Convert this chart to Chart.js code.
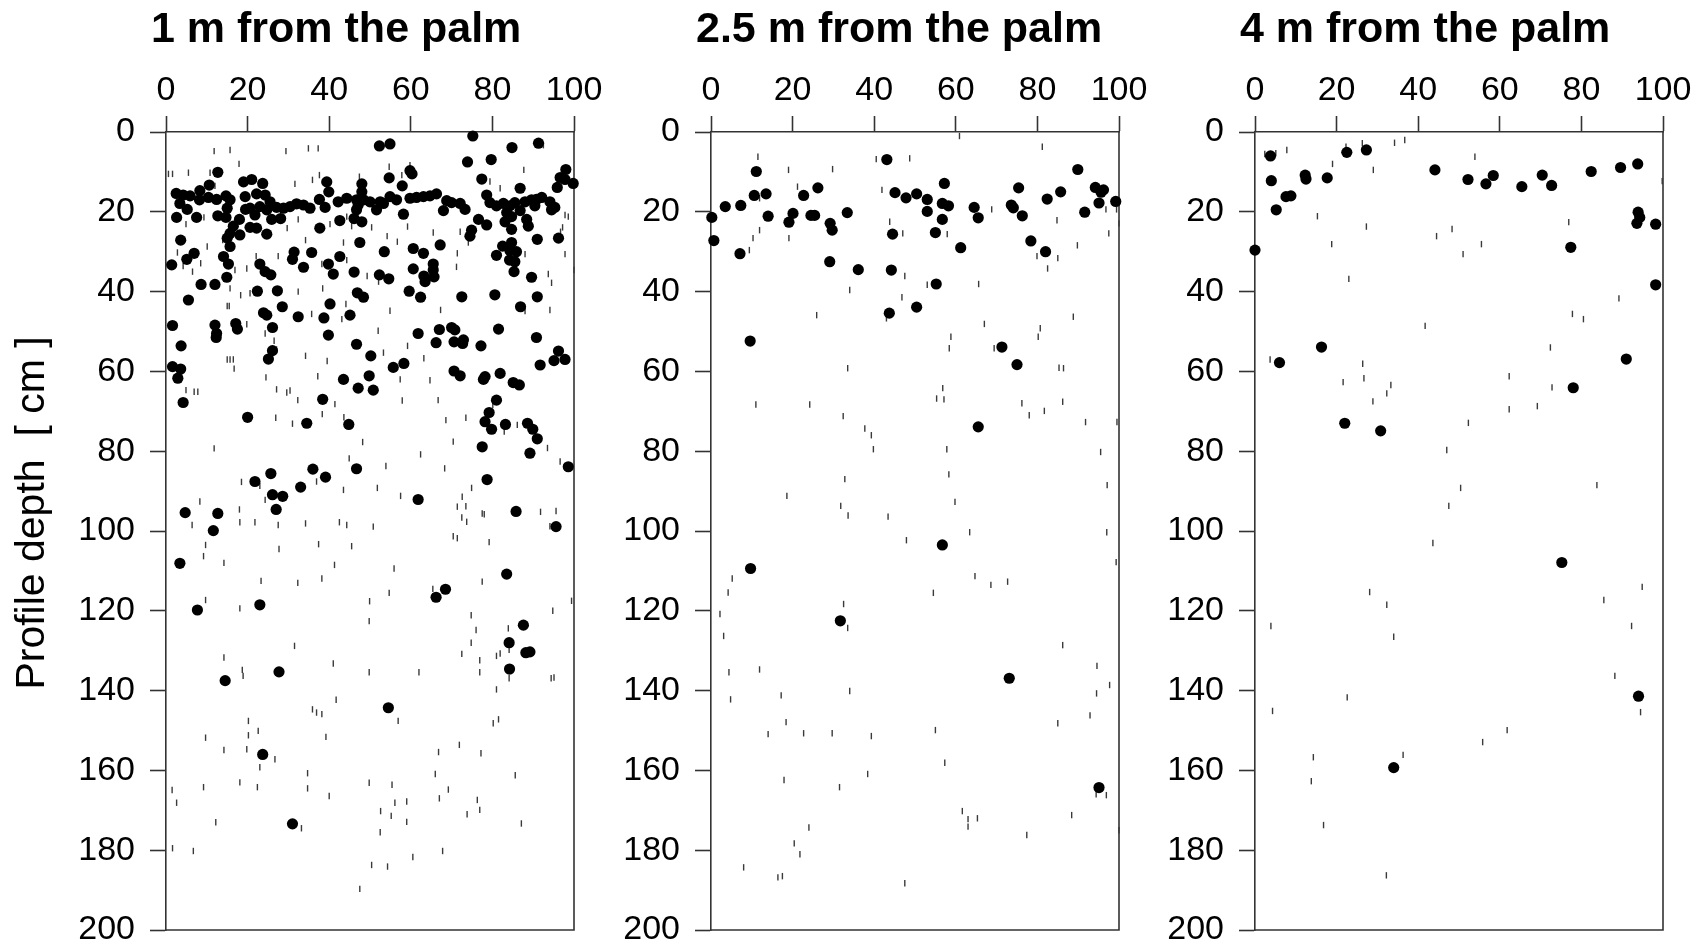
<!DOCTYPE html>
<html lang="en">
<head>
<meta charset="UTF-8" />
<title>Profile depth vs distance from the palm</title>
<script src="https://cdn.jsdelivr.net/npm/chart.js"></script>
<style>
  body { margin: 0; background: #fff; width: 1706px; height: 948px; position: relative; overflow: hidden; }
  canvas { position: absolute; top: 0; }
</style>
</head>
<body>
<canvas id="p1" width="640" height="948" style="left:0px"></canvas>
<canvas id="p2" width="570" height="948" style="left:590px"></canvas>
<canvas id="p3" width="576" height="948" style="left:1130px"></canvas>
<script>
const xTicks = [0, 20, 40, 60, 80, 100];
const yTicks = [0, 20, 40, 60, 80, 100, 120, 140, 160, 180, 200];
const titles = ['1 m from the palm', '2.5 m from the palm', '4 m from the palm'];
const yLabel = 'Profile depth  [ cm ]';

// filled dots, [x, depth]
const dots1 = [
  [52.3,3.5],[54.9,3.0],[75.2,1.0],[84.8,3.9],[91.3,2.8],[73.9,7.5],[79.7,6.9],[12.7,10.1],[59.8,9.7],[60.3,10.5],
  [54.7,11.5],[98.0,9.4],[96.6,11.4],[97.8,11.9],[99.8,12.9],[77.4,11.8],[86.8,14.1],[95.9,13.9],[10.6,13.3],[19.0,12.5],
  [21.0,11.9],[23.7,12.9],[39.4,12.5],[39.9,15.0],[48.0,13.0],[48.0,15.0],[57.9,13.5],
  [2.5,15.4],[4.2,15.8],[5.9,16.0],[8.3,14.7],[8.2,17.0],[10.4,16.4],[12.4,16.9],[14.7,16.0],[15.7,17.0],[15.0,19.1],
  [3.4,17.9],[5.2,19.4],[2.6,21.4],[7.5,21.4],[12.7,21.0],[14.7,21.4],[19.4,16.2],[19.5,19.4],[20.6,19.1],[22.2,15.5],
  [24.3,15.8],[25.5,17.5],[23.0,18.7],[24.7,19.5],[27.1,18.9],[28.8,19.1],[30.4,18.7],[32.0,18.0],[33.7,18.3],[35.3,19.1],
  [25.9,21.9],[28.1,21.7],[21.8,20.8],[37.6,16.9],[39.0,18.9],[42.2,17.5],[44.3,16.6],[46.7,17.0],[47.1,18.3],[48.4,17.0],
  [46.7,19.5],[50.0,17.5],[52.5,17.5],[53.3,17.9],[54.9,16.2],[56.5,17.0],[51.6,19.5],[58.2,20.6],[59.8,16.6],[61.4,16.4],
  [63.1,16.2],[64.7,16.0],[66.3,15.5],[68.8,17.2],[70.0,17.7],[72.1,17.9],[73.3,19.4],[68.0,19.7],[78.6,15.8],[79.4,17.7],
  [81.0,18.5],[82.7,17.9],[84.3,18.5],[85.5,17.7],[88.0,17.5],[89.6,17.0],[90.8,16.9],[92.1,16.4],[90.4,18.5],[94.1,17.5],
  [95.3,18.9],[94.5,19.5],[83.5,20.2],[84.7,21.2],[86.8,19.7],[88.4,21.9],[83.1,22.5],[76.6,21.9],[78.6,23.3],[88.8,23.6],
  [18.0,21.9],[16.5,23.6],[15.7,25.4],[18.1,25.8],[20.6,23.9],[22.2,24.1],[24.7,25.6],[37.7,24.1],[42.6,22.2],[46.1,21.7],
  [48.0,22.5],[84.7,24.4],[74.9,24.6],[74.5,26.1],[96.2,26.6],[91.0,26.9],[3.6,27.1],[15.0,26.6],[15.7,28.7],[6.9,30.4],
  [5.1,31.9],[1.4,33.3],[14.1,31.2],[15.3,33.1],[23.0,33.1],[24.3,35.0],[25.7,35.8],[31.4,30.1],[31.0,31.9],[33.7,33.9],
  [35.7,30.2],[39.8,33.1],[41.0,35.6],[42.6,31.2],[46.1,35.1],[47.5,27.7],[53.5,30.0],[60.6,29.2],[63.1,30.4],[52.3,35.8],
  [54.6,36.8],[60.6,34.3],[63.2,36.1],[63.5,37.5],[65.5,33.1],[65.5,34.6],[65.7,36.3],[67.2,28.3],[82.5,28.6],[84.7,27.7],
  [81.0,30.9],[84.3,29.7],[85.9,30.0],[84.2,32.1],[85.5,32.5],[85.3,35.0],[89.6,36.4],[14.9,36.4],[8.6,38.2],[12.0,38.2],
  [22.4,39.9],[27.3,39.8],[46.9,40.3],[48.4,41.4],[59.6,39.9],[62.4,41.4],[72.5,41.3],[80.6,40.8],[91.0,41.3],[5.5,42.1],
  [40.2,43.1],[86.9,43.8],[28.5,43.8],[23.9,45.3],[24.7,45.9],[32.4,46.3],[38.7,46.6],[45.1,45.9],[1.6,48.5],[12.0,48.4],
  [12.4,50.5],[12.3,51.5],[17.1,48.0],[17.5,49.4],[26.1,49.0],[39.8,50.9],[61.8,50.5],[67.0,49.5],[70.0,49.0],[70.8,49.6],
  [81.5,49.4],[90.8,51.5],[3.7,53.6],[46.7,53.2],[50.2,56.1],[66.2,52.8],[70.6,52.6],[72.9,52.1],[72.7,53.0],[77.2,53.6],
  [96.2,54.9],[95.1,57.3],[97.8,57.0],[91.7,58.4],[26.1,54.8],[25.1,56.9],[1.6,58.8],[3.6,59.4],[2.9,61.7],[55.7,59.0],
  [58.3,58.0],[49.8,61.1],[43.5,62.0],[47.1,64.2],[50.8,64.7],[70.6,59.9],[72.1,61.1],[77.8,62.0],[78.2,61.3],[81.9,60.5],
  [85.1,62.8],[86.6,63.4],[4.2,67.8],[38.4,67.0],[20.0,71.5],[34.5,73.0],[44.8,73.3],[81.0,67.2],[79.2,70.3],[78.2,72.6],
  [79.8,74.5],[83.2,73.3],[88.6,73.0],[89.9,74.5],[91.0,76.9],[77.5,78.9],[89.2,80.5],[98.6,83.9],[46.7,84.4],[36.0,84.5],
  [39.1,86.5],[25.7,85.6],[21.8,87.6],[33.0,89.0],[26.1,90.9],[28.6,91.3],[61.8,92.1],[78.7,87.1],[4.7,95.4],[12.7,95.6],
  [27.0,94.6],[85.8,95.1],
  [11.6,99.9],[95.6,98.9],[3.4,108.1],[83.5,110.8],[68.5,114.6],[66.2,116.6],[7.7,119.8],[23.0,118.5],[87.6,123.6],[84.1,128.0],
  [88.2,130.5],[89.2,130.3],[84.2,134.6],[27.7,135.3],[14.5,137.5],[54.5,144.3],[23.7,156.0],[31.0,173.4]
];
// short vertical dashes, [x, depth]
const dashes1 = [
  [11.8,4.8],[15.7,4.5],[29.4,4.8],[34.9,4.1],[37.3,4.1],[17.9,8.0],[0.6,10.5],[1.6,10.5],[5.5,10.2],[10.8,10.2],
  [54.7,8.7],[59.8,8.3],[87.7,9.5],[79.4,12.4],[81.9,14.1],[92.5,3.3],[31.6,13.0],[35.9,12.0],[37.6,10.8],[47.4,11.2],
  [57.8,10.8],[4.9,23.1],[9.3,21.4],[12.0,13.5],[97.8,20.8],[98.6,21.2],[97.2,23.9],[96.7,25.0],[29.7,24.1],[32.4,21.9],
  [40.2,23.1],[44.3,21.2],[45.5,23.6],[50.4,23.9],[59.2,23.7],[65.5,25.2],[72.1,25.0],[74.1,27.7],[71.4,30.4],[71.2,33.8],
  [10.1,28.7],[13.9,27.1],[2.8,30.2],[4.2,33.6],[8.5,32.9],[6.5,35.0],[16.9,34.6],[19.8,34.2],[22.1,31.1],[27.5,31.1],
  [38.2,33.1],[44.3,32.1],[49.3,36.1],[52.1,37.5],[88.0,30.6],[97.8,30.6],[93.7,35.6],[94.5,37.8],[100.0,34.6],[15.7,39.2],
  [18.3,40.9],[20.6,40.4],[32.4,40.0],[38.4,39.2],[34.2,27.1],[54.2,26.1],[56.7,27.5],[43.5,27.7],
  [15.0,43.6],[15.5,43.6],[19.8,48.2],[24.3,50.5],[26.5,52.3],[27.1,54.5],[35.7,45.6],[43.1,46.9],[44.1,43.1],[54.9,44.8],
  [67.3,44.6],[94.1,44.6],[88.0,44.9],[52.0,49.8],[53.3,55.3],[59.2,53.6],[63.2,56.7],[34.2,56.1],[39.5,57.4],[15.0,57.0],
  [15.7,57.0],[16.5,57.0],[16.7,59.3],[24.5,61.5],[37.2,61.2],[57.4,62.0],[64.7,62.2],[4.9,64.7],[6.9,65.1],[7.8,65.1],
  [27.1,64.5],[29.6,65.3],[30.4,64.8],[32.3,67.2],[41.4,68.2],[38.3,70.7],[43.6,71.5],[57.9,67.3],[66.7,67.2],[80.1,68.4],
  [68.6,72.2],[73.5,71.6],[86.1,73.4],[82.9,75.1],[26.9,71.6],[31.0,73.1],[11.8,79.3],[48.2,77.7],[70.4,77.6],[93.5,79.2],
  [44.9,81.8],[62.4,80.8],[53.9,83.7],[68.3,84.3],[96.6,82.6],[18.5,87.7],[23.0,88.7],[36.9,87.6],[43.5,89.7],[51.8,89.2],
  [57.5,91.2],[74.9,89.2],[8.3,92.6],[24.3,92.2],[18.0,94.6],[71.4,93.9],[73.5,93.8],[72.6,91.4],[77.5,95.6],[78.0,95.8],
  [91.8,95.2],[95.6,95.0],
  [6.4,98.5],[18.1,97.8],[21.8,97.8],[27.5,98.5],[34.2,98.1],[42.5,97.8],[44.3,98.5],[50.8,98.9],[72.5,96.6],[73.7,97.7],
  [94.1,98.8],[9.7,103.5],[9.2,106.3],[14.2,108.0],[27.7,104.5],[37.4,103.3],[45.5,103.8],[70.4,101.3],[71.4,101.8],[79.2,102.8],
  [41.3,108.5],[55.9,109.4],[23.3,112.5],[32.3,113.0],[38.2,111.9],[54.7,115.5],[65.4,114.5],[77.5,112.7],[9.7,117.3],[18.1,119.4],
  [49.9,117.6],[49.8,122.6],[99.4,117.5],[74.8,121.1],[94.8,120.0],[76.0,124.8],[83.9,124.4],[74.8,128.0],[72.5,130.8],[76.9,132.4],
  [81.0,131.3],[81.9,130.7],[84.1,129.8],[31.5,128.8],[14.2,131.7],[18.7,134.8],[18.9,136.3],[41.0,133.2],[49.8,135.4],[62.0,135.4],
  [76.9,135.4],[84.1,136.9],[94.4,136.9],[95.1,136.7],[81.0,139.7],[41.7,142.3],[35.9,144.7],[36.9,145.5],[38.2,145.9],[56.9,147.6],
  [20.2,147.6],[22.6,150.1],[20.2,151.2],[80.2,148.2],[81.5,147.2],[9.7,151.8],[39.2,151.6],
  [14.2,154.9],[19.8,154.7],[26.7,157.2],[23.0,159.2],[34.7,160.7],[34.7,164.5],[40.0,166.4],[9.2,164.2],[1.5,164.9],[2.6,168.1],
  [18.1,163.0],[22.4,164.2],[12.2,173.0],[33.2,174.5],[1.6,179.5],[6.7,180.2],[66.8,155.4],[71.9,153.6],[77.2,155.7],[66.0,160.9],
  [85.6,161.2],[49.8,163.1],[55.4,163.6],[69.2,164.8],[67.0,167.0],[56.1,168.1],[59.0,167.8],[52.6,170.2],[55.2,171.4],[76.3,167.4],
  [76.9,169.9],[73.8,171.0],[59.0,172.9],[52.5,175.5],[87.1,173.3],[67.8,180.2],[60.5,181.7],[50.4,183.7],[54.3,184.1],[47.5,189.7]
];

const dots2 = [
  [43.1,6.9],[11.1,9.9],[89.9,9.4],[57.2,12.9],[75.4,14.0],[94.2,13.9],[96.2,14.5],[95.6,15.1],[10.6,15.9],[13.5,15.5],
  [22.7,15.9],[26.2,14.0],[45.1,15.2],[47.8,16.5],[50.4,15.5],[53.0,16.9],[53.0,19.9],[56.7,17.9],[58.2,18.5],[56.7,21.9],
  [64.5,18.9],[65.5,21.5],[73.6,18.3],[74.1,19.0],[76.3,21.0],[82.4,16.8],[85.7,15.0],[95.1,17.8],[99.2,17.4],[91.6,20.1],
  [3.5,18.7],[7.3,18.4],[0.2,21.4],[0.7,27.2],[7.1,30.5],[14.0,21.1],[20.1,20.4],[19.1,22.6],[24.5,20.9],[25.4,20.9],
  [29.2,22.9],[29.7,24.6],[33.4,20.2],[44.5,25.6],[55.0,25.2],[61.2,29.0],[78.4,27.3],[82.0,30.0],[29.1,32.5],[36.1,34.5],
  [44.2,34.6],[55.2,38.1],[43.7,45.4],[50.4,43.9],[9.6,52.4],[71.3,53.9],[75.0,58.3],[65.5,73.9],[56.7,103.5],[9.7,109.4],
  [31.7,122.5],[73.1,136.9],[95.1,164.3]
];
const dashes2 = [
  [60.9,1.0],[81.2,3.7],[11.5,6.2],[40.5,6.8],[48.7,6.6],[19.0,9.5],[29.8,9.3],[21.2,13.7],[41.9,14.5],[11.9,16.6],
  [68.8,19.4],[96.8,19.4],[99.4,19.4],[100,22.9],[11.9,24.6],[10.3,26.6],[9.4,29.6],[19.1,26.6],[43.8,22.5],[47.0,25.4],
  [57.9,25.6],[84.8,22.1],[97.5,25.4],[89.8,28.4],[79.9,31.1],[85.0,31.6],[82.5,34.2],[47.5,36.1],[46.8,41.4],[53.0,38.3],
  [65.6,38.1],[34.0,39.6],[25.9,45.9],[43.0,46.7],[67.0,48.1],[80.7,49.2],[80.2,51.3],[88.8,46.3],[58.8,51.3],[58.4,54.2],
  [69.4,54.2],[33.5,59.2],[85.3,59.1],[86.4,59.2],
  [11.0,68.3],[24.2,68.3],[32.4,71.2],[37.7,74.3],[39.3,76.0],[39.8,79.5],[56.8,64.2],[55.3,66.8],[57.1,67.0],[76.2,68.0],
  [78.0,71.0],[81.7,69.9],[86.2,67.6],[91.8,72.7],[99.5,72.7],[57.8,79.5],[58.3,85.8],[95.5,80.2],[32.8,87.0],[18.6,91.2],
  [97.1,88.5],[31.8,93.7],[33.6,96.1],[43.4,96.4],[59.8,92.7],[63.4,100.3],[97.0,100.3],[47.9,102.3],[99.3,107.8],[5.2,111.9],
  [4.2,115.4],[64.7,111.3],[68.6,113.5],[72.7,112.7],[54.5,115.5],[2.2,120.8],[32.5,118.3],[33.5,124.3],[3.1,126.3],[86.2,128.6],
  [4.4,135.4],[11.9,134.7],[4.8,142.2],[17.2,141.2],[34.0,140.1],[94.6,133.8],[97.7,138.6],[94.5,140.7],[92.9,146.2],[85.0,148.2],
  [18.4,147.9],[14.0,150.9],[22.7,150.7],[29.7,150.7],[39.3,151.4],[55.0,149.9],[57.3,158.1],[17.9,162.4],[31.5,164.2],[38.4,160.9],
  [61.6,170.2],[63.0,172.2],[65.3,172.0],[63.0,174.1],[77.4,176.2],[88.4,171.2],[94.4,166.0],[96.9,166.2],[100,175.0],[24.0,174.3],
  [20.4,178.3],[21.8,181.0],[8.0,184.3],[16.4,186.8],[17.5,186.5],[47.5,188.3]
];

const dots3 = [
  [3.8,6.0],[22.5,5.1],[27.3,4.5],[4.0,12.2],[12.3,10.8],[12.5,11.8],[17.7,11.5],[7.6,16.2],[8.8,16.0],[5.2,19.5],
  [0,29.6],[44.1,9.5],[52.2,11.9],[56.6,13.0],[58.4,10.9],[65.4,13.7],[70.4,10.8],[72.7,13.4],[82.4,9.9],[89.6,8.9],
  [93.8,8.0],[93.9,20.1],[94.3,21.4],[93.6,22.9],[98.2,23.1],[77.4,28.9],[98.2,38.3],[16.3,53.9],[6.0,57.8],[91.0,56.9],
  [78.0,64.1],[22.0,73.0],[30.8,74.9],[75.2,107.9],[94.0,141.4],[34.0,159.3]
];
const dashes3 = [
  [2.4,5.5],[5.1,5.3],[7.8,4.5],[22.3,3.7],[26.3,2.8],[34.2,2.7],[36.7,2.0],[19.0,8.0],[29.0,9.5],[53.9,6.2],
  [99.8,12.3],[15.3,21.1],[27.3,23.7],[18.8,28.1],[44.5,26.1],[48.3,24.3],[51.0,30.6],[55.5,28.1],[76.9,22.6],[23.0,36.8],
  [41.7,48.6],[89.2,41.7],[77.8,45.6],[80.5,46.9],[72.4,54.0],[3.7,57.0],[26.4,58.1],
  [21.6,62.7],[26.7,61.7],[33.3,63.4],[32.3,65.5],[28.9,67.5],[62.3,61.2],[72.8,64.0],[62.3,69.5],[69.2,68.7],[52.3,72.9],
  [47.0,79.7],[50.4,89.2],[47.5,93.7],[83.8,88.5],[43.6,103.0],[28.1,115.3],[32.3,118.5],[94.9,114.0],[85.5,117.3],[3.9,123.8],
  [92.3,123.8],[34.0,126.5],
  [4.3,145.1],[22.6,141.7],[88.2,136.3],[94.5,145.4],[61.8,149.9],[55.8,152.9],[36.3,156.1],[14.3,156.7],[13.8,162.7],[16.8,173.7],
  [32.2,186.3]
];

const FONT = "'Liberation Sans', Arial, sans-serif";
const AXIS = '#333';

// panel title, y label and the right/bottom frame lines
const panelDecor = {
  id: 'panelDecor',
  beforeDatasetsDraw(chart, args, opts) {
    const {ctx, chartArea: a} = chart;
    ctx.save();
    ctx.strokeStyle = AXIS;
    ctx.lineWidth = 1.6;
    ctx.beginPath();
    ctx.moveTo(a.left, a.bottom);
    ctx.lineTo(a.right, a.bottom);
    ctx.lineTo(a.right, a.top);
    ctx.stroke();
    ctx.restore();
  },
  afterDraw(chart, args, opts) {
    const {ctx, chartArea: a} = chart;
    ctx.save();
    ctx.fillStyle = '#000';
    ctx.font = `bold 43px ${FONT}`;
    ctx.textAlign = 'left';
    ctx.textBaseline = 'alphabetic';
    ctx.fillText(opts.title, a.left - 15, 42);
    if (opts.ylabel) {
      ctx.font = `41px ${FONT}`;
      ctx.translate(33, 513);
      ctx.rotate(-Math.PI / 2);
      ctx.textAlign = 'center';
      ctx.textBaseline = 'middle';
      ctx.fillText(opts.ylabel, 0, 0);
    }
    ctx.restore();
  }
};

function makePanel(id, dots, dashes, title, yw, padRight, ylabel) {
  return new Chart(document.getElementById(id), {
    type: 'scatter',
    data: {
      datasets: [
        { data: dots.map(([x, y]) => ({x, y})), pointRadius: 5.6, pointBackgroundColor: '#000',
          pointBorderWidth: 0, clip: false },
        { data: dashes.map(([x, y]) => ({x, y})), pointStyle: 'line', rotation: 90, pointRadius: 3.2,
          pointBorderColor: '#3a3a3a', pointBorderWidth: 1.4, clip: false }
      ]
    },
    options: {
      responsive: false,
      animation: false,
      events: [],
      layout: { padding: { left: 0, right: padRight, top: 72, bottom: 18 } },
      plugins: {
        legend: { display: false },
        tooltip: { enabled: false },
        panelDecor: { title, ylabel }
      },
      scales: {
        x: {
          type: 'linear', position: 'top', min: 0, max: 100,
          afterBuildTicks: s => { s.ticks = xTicks.map(v => ({ value: v })); },
          afterFit: s => { s.height = 60; s.paddingLeft = 0; s.paddingRight = 0; },
          ticks: { color: '#000', font: { family: FONT, size: 34, lineHeight: 1 }, padding: 8, maxRotation: 0 },
          grid: { drawOnChartArea: false, tickLength: 16, tickColor: AXIS, tickWidth: 1.6 },
          border: { color: AXIS, width: 1.6 }
        },
        y: {
          type: 'linear', reverse: true, min: 0, max: 200,
          afterBuildTicks: s => { s.ticks = yTicks.map(v => ({ value: v })); },
          afterFit: s => { s.width = yw; s.paddingTop = 0; s.paddingBottom = 0; },
          ticks: { color: '#000', font: { family: FONT, size: 34 }, padding: 15 },
          grid: { drawOnChartArea: false, tickLength: 16, tickColor: AXIS, tickWidth: 1.6 },
          border: { color: AXIS, width: 1.6 }
        }
      }
    },
    plugins: [panelDecor]
  });
}

makePanel('p1', dots1, dashes1, titles[0], 166, 66, yLabel);
makePanel('p2', dots2, dashes2, titles[1], 121, 41, null);
makePanel('p3', dots3, dashes3, titles[2], 125, 43, null);
</script>
</body>
</html>
